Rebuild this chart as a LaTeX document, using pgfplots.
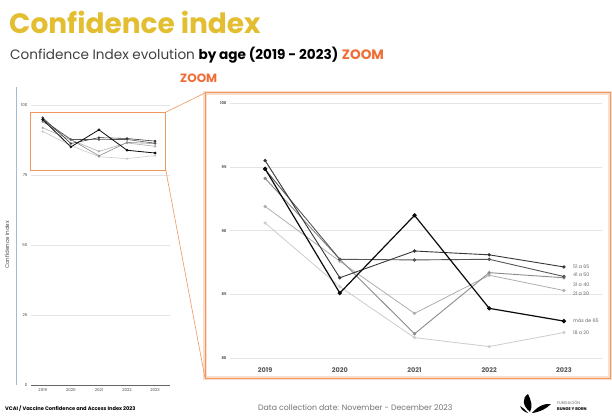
\documentclass[border=0pt]{standalone}
\usepackage{fontspec}
\setmainfont{Poppins}
\usepackage{pgfplots}
\pgfplotsset{compat=1.18}
\definecolor{mustard}{RGB}{226,190,48}
\definecolor{zoomor}{RGB}{240,108,52}
\definecolor{frameor}{RGB}{240,150,95}
\definecolor{gridc}{RGB}{228,228,228}
\definecolor{yline}{RGB}{170,185,210}
\definecolor{s1}{RGB}{10,10,10}
\definecolor{s2}{RGB}{55,55,55}
\definecolor{s3}{RGB}{85,85,85}
\definecolor{s4}{RGB}{140,140,140}
\definecolor{s5}{RGB}{175,175,175}
\definecolor{s6}{RGB}{205,205,205}
% x: 0=2019, 1=2020, 2=2021, 3=2022, 4=2023
\pgfplotstableread{
idx mas65 a5165 a4150 a3140 a2130 a1820
0 94.85 95.5 94.8 94.1 91.9 90.6
1 85.1 86.3 87.75 87.75 87.6 85.6
2 91.2 88.4 87.7 81.9 83.5 81.6
3 83.9 88.1 87.75 86.7 86.5 80.9
4 82.9 87.15 86.4 86.3 85.3 82.0
}\datatable
\pgfplotsset{
  serstyle/.style={mark=*, mark size=1.2pt},
}
\begin{document}
\begin{tikzpicture}
\path[use as bounding box, fill=white] (0pt,0pt) rectangle (612pt,415pt);
% titles
\node[anchor=base west, inner sep=0, text=mustard, font=\fontsize{28}{28}\selectfont\bfseries] at (9pt,381pt) {Confidence index};
\node[anchor=base west, inner sep=0, font=\fontsize{13.6}{13.6}\selectfont] at (10pt,355pt) {\color{black!75}Confidence Index evolution \textbf{\color{black}by age (2019 - 2023)} \textbf{\color{zoomor}ZOOM}};
\node[anchor=base west, inner sep=0, text=zoomor, font=\fontsize{12}{12}\selectfont\bfseries] at (180pt,332pt) {ZOOM};

% left small chart
\begin{axis}[
  at={(31pt,30pt)}, anchor=south west, scale only axis,
  width=139pt, height=298pt,
  xmin=-0.42, xmax=4.53, ymin=0, ymax=106.5,
  axis x line*=bottom, axis y line*=left,
  x axis line style={black!60, line width=0.6pt, -},
  y axis line style={draw=none},
  xtick={0,1,2,3,4},
  xticklabels={2019,2020,2021,2022,2023},
  ytick={0,25,50,75,100},
  ymajorgrids, grid style={gridc, line width=0.4pt},
  major tick length=0pt,
  xticklabel style={font=\fontsize{4}{4}\selectfont, text=black!70},
  yticklabel style={font=\fontsize{4}{4}\selectfont, text=black!70},
  /pgf/number format/assume math mode=true,
  clip=false,
]
\addplot[s6, line width=0.6pt, serstyle, mark size=0.9pt] table[x=idx,y=a1820] {\datatable};
\addplot[s5, line width=0.6pt, serstyle, mark size=0.9pt] table[x=idx,y=a2130] {\datatable};
\addplot[s4, line width=0.6pt, serstyle, mark size=0.9pt] table[x=idx,y=a3140] {\datatable};
\addplot[s3, line width=0.6pt, serstyle, mark size=0.9pt] table[x=idx,y=a4150] {\datatable};
\addplot[s2, line width=0.6pt, serstyle, mark size=0.9pt] table[x=idx,y=a5165] {\datatable};
\addplot[s1, line width=0.8pt, serstyle, mark size=0.9pt] table[x=idx,y=mas65] {\datatable};
\draw[frameor, line width=0.8pt] (axis cs:-0.45,97.5) rectangle (axis cs:4.38,76.8);
\coordinate (rtr) at (axis cs:4.38,97.5);
\coordinate (rbr) at (axis cs:4.38,76.8);
\end{axis}
\draw[yline, line width=0.6pt] (16pt,328pt) -- (16pt,30pt);
\node[rotate=90, font=\fontsize{5.5}{5.5}\selectfont, text=black!70] at (7pt,170pt) {Confidence index};

% zoom frame
\draw[frameor!30, line width=4pt] (205pt,322pt) rectangle (610pt,37pt);
\draw[frameor, line width=1pt] (205pt,322pt) rectangle (610pt,37pt);
\draw[frameor, line width=0.6pt] (rtr) -- (205pt,322pt);
\draw[frameor, line width=0.6pt] (rbr) -- (205pt,37pt);

% right zoom chart
\begin{axis}[
  at={(230pt,50.6pt)}, anchor=south west, scale only axis,
  width=372pt, height=265pt,
  xmin=-0.47, xmax=4.51, ymin=79.5, ymax=100.3,
  axis line style={draw=none},
  xtick={0,1,2,3,4},
  xticklabels={2019,2020,2021,2022,2023},
  ytick={80,85,90,95,100},
  ymajorgrids, grid style={gridc, line width=0.5pt},
  major tick length=0pt,
  xticklabel style={font=\fontsize{6.5}{6.5}\selectfont\bfseries, text=black!65},
  yticklabel style={font=\fontsize{3.8}{3.8}\selectfont\bfseries, text=black!65},
  /pgf/number format/assume math mode=true,
  clip=false,
]
\addplot[s6, line width=0.8pt, serstyle] table[x=idx,y=a1820] {\datatable};
\addplot[s5, line width=0.8pt, serstyle] table[x=idx,y=a2130] {\datatable};
\addplot[s4, line width=0.9pt, serstyle] table[x=idx,y=a3140] {\datatable};
\addplot[s3, line width=0.9pt, serstyle] table[x=idx,y=a4150] {\datatable};
\addplot[s2, line width=0.9pt, serstyle] table[x=idx,y=a5165] {\datatable};
\addplot[s1, line width=1.2pt, serstyle, mark size=1.5pt] table[x=idx,y=mas65] {\datatable};
\node[anchor=west, inner sep=0pt, font=\fontsize{4.8}{4.8}\selectfont, text=black!60] at (axis cs:4.12,87.2) {51 a 65};
\node[anchor=west, inner sep=0pt, font=\fontsize{4.8}{4.8}\selectfont, text=black!60] at (axis cs:4.12,86.55) {41 a 50};
\node[anchor=west, inner sep=0pt, font=\fontsize{4.8}{4.8}\selectfont, text=black!60] at (axis cs:4.12,85.75) {31 a 40};
\node[anchor=west, inner sep=0pt, font=\fontsize{4.8}{4.8}\selectfont, text=black!60] at (axis cs:4.12,85.05) {21 a 30};
\node[anchor=west, inner sep=0pt, font=\fontsize{4.8}{4.8}\selectfont, text=black!60] at (axis cs:4.12,82.9) {más de 65};
\node[anchor=west, inner sep=0pt, font=\fontsize{4.8}{4.8}\selectfont, text=black!60] at (axis cs:4.12,82.0) {18 a 20};
\end{axis}

% footer
\node[anchor=base west, inner sep=0, font=\fontsize{5.1}{5.1}\selectfont\bfseries] at (5pt,5pt) {VCAI / Vaccine Confidence and Access Index 2023};
\node[anchor=base west, inner sep=0, font=\fontsize{7.8}{7.8}\selectfont, text=black!55] at (258pt,5pt) {Data collection date: November - December 2023};
% logo
\fill[black] (530pt,3pt) .. controls (522pt,10pt) and (522pt,17pt) .. (528pt,21pt) .. controls (531pt,15pt) and (533pt,9pt) .. cycle;
\fill[black] (532pt,2pt) .. controls (538pt,9pt) and (545pt,12pt) .. (551pt,11pt) .. controls (546pt,6pt) and (540pt,3pt) .. cycle;
\fill[black] (520pt,9pt) .. controls (523pt,7pt) and (526pt,5pt) .. (528pt,2pt) .. controls (524pt,3pt) and (521pt,6pt) .. cycle;
\node[anchor=base west, inner sep=0, font=\fontsize{4}{4}\selectfont, text=black!60] at (557pt,11pt) {FUNDACIÓN};
\node[anchor=base west, inner sep=0, font=\fontsize{4}{4}\selectfont\bfseries] at (557pt,4.5pt) {BUNGE Y BORN};
\end{tikzpicture}
\end{document}
